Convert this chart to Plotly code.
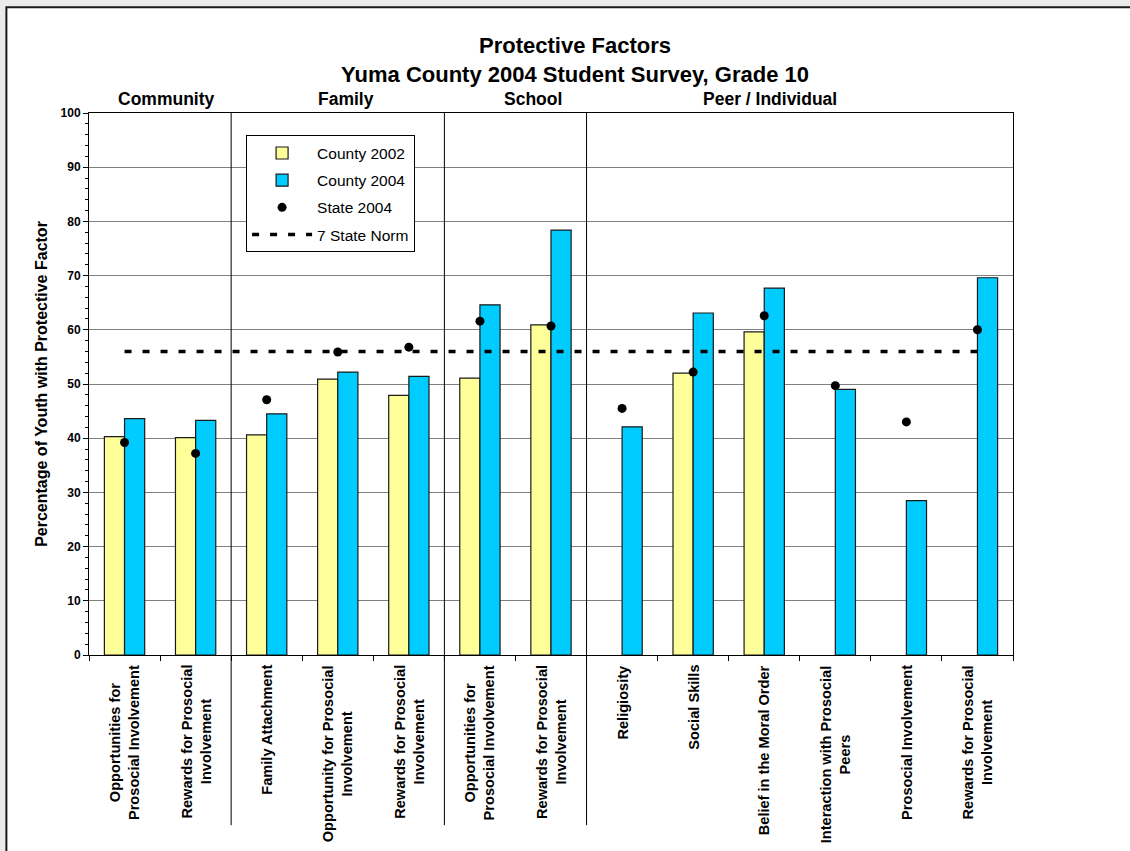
import plotly.graph_objects as go

# ---------------- data ----------------
groups = ["Community", "Family", "School", "Peer / Individual"]
group_sizes = [2, 3, 2, 6]
categories = [
    "Opportunities for<br>Prosocial Involvement",
    "Rewards for Prosocial<br>Involvement",
    "Family Attachment",
    "Opportunity for Prosocial<br>Involvement",
    "Rewards for Prosocial<br>Involvement",
    "Opportunities for<br>Prosocial Involvement",
    "Rewards for Prosocial<br>Involvement",
    "Religiosity",
    "Social Skills",
    "Belief in the Moral Order",
    "Interaction with Prosocial<br>Peers",
    "Prosocial Involvement",
    "Rewards for Prosocial<br>Involvement",
]
county_2002 = [40.3, 40.1, 40.6, 50.9, 47.9, 51.1, 60.9, None, 52.0, 59.6, None, None, None]
county_2004 = [43.6, 43.3, 44.5, 52.2, 51.4, 64.6, 78.4, 42.1, 63.1, 67.7, 49.0, 28.5, 69.6]
state_2004 = [39.2, 37.2, 47.1, 55.9, 56.8, 61.6, 60.7, 45.5, 52.2, 62.6, 49.7, 43.0, 60.0]
state_norm = 56.0
y_ticks = [0, 10, 20, 30, 40, 50, 60, 70, 80, 90, 100]

# layout: header label positions (in category units)
header_x = [0.59, 3.12, 5.75, 9.08]

FONT = "Arial, Liberation Sans, sans-serif"
pos = list(range(len(categories)))

fig = go.Figure()
fig.add_trace(go.Bar(
    x=pos, y=county_2002, name="County 2002", offsetgroup="a",
    marker=dict(color="#FFFF99", line=dict(color="#1a1a1a", width=1.2)),
    legendgroup="g1",
))
fig.add_trace(go.Bar(
    x=pos, y=county_2004, name="County 2004", offsetgroup="b",
    marker=dict(color="#00CCFF", line=dict(color="#1a1a1a", width=1.2)),
    legendgroup="g2",
))
fig.add_trace(go.Scatter(
    x=pos, y=state_2004, name="State 2004", mode="markers",
    marker=dict(color="black", size=9), legendgroup="g3",
))
fig.add_trace(go.Scatter(
    x=pos, y=[state_norm] * len(pos), name="7 State Norm", mode="lines",
    line=dict(color="black", width=3.5, dash="7px,11px"), legendgroup="g4",
))

# group dividers and headers
shapes = []
annotations = []
start = 0
for g, n, hx in zip(groups, group_sizes, header_x):
    end = start + n
    annotations.append(dict(
        x=hx, y=1.025, xref="x", yref="paper",
        text=f"<b>{g}</b>", showarrow=False, yanchor="middle",
        font=dict(family=FONT, size=17.5, color="black"),
    ))
    if end < len(categories):
        shapes.append(dict(
            type="line", xref="x", yref="paper", x0=end - 0.5, x1=end - 0.5,
            y0=1, y1=-0.314, line=dict(color="black", width=1),
        ))
    start = end

# category labels
for i, c in enumerate(categories):
    annotations.append(dict(
        x=i, y=0, xref="x", yref="paper", yshift=-8, yanchor="top",
        text=f"<b>{c}</b>", showarrow=False, textangle=-90, align="center",
        font=dict(family=FONT, size=14.6, color="black"),
    ))

# chart area frame
shapes.insert(0, dict(
    type="rect", xref="paper", yref="paper", x0=-0.0894, x1=1.2, y0=-0.6, y1=1.195,
    fillcolor="white", line=dict(color="#1a1a1a", width=2), layer="below",
))

fig.update_layout(
    width=1130, height=851,
    margin=dict(l=89, r=117, t=113, b=196),
    paper_bgcolor="#EAEAEA", plot_bgcolor="white",
    font=dict(family=FONT, color="black"),
    title=dict(
        text="<b>Protective Factors<br>Yuma County 2004 Student Survey, Grade 10</b>",
        x=0.526, xref="paper", xanchor="center",
        y=1 - 53 / 851, yref="container", yanchor="middle",
        font=dict(family=FONT, size=22, color="black"),
    ),
    barmode="group", bargap=0.433, bargroupgap=0,
    showlegend=True,
    legend=dict(
        x=0.170, y=0.9586, xanchor="left", yanchor="top",
        bgcolor="white", bordercolor="black", borderwidth=1,
        font=dict(family=FONT, size=15.5, color="black"),
        traceorder="grouped", tracegroupgap=4, itemwidth=60,
    ),
    shapes=shapes, annotations=annotations,
)
fig.update_xaxes(
    range=[-0.5, len(categories) - 0.5],
    tickvals=[i - 0.5 for i in range(len(categories) + 1)],
    showticklabels=False, ticks="outside", ticklen=5, tickcolor="black",
    showline=True, linecolor="black", linewidth=1, mirror=True,
    showgrid=False, zeroline=False,
)
fig.update_yaxes(
    range=[0, 100], tickvals=y_ticks, ticks="outside", ticklen=5, tickcolor="black",
    tickfont=dict(family=FONT, size=12, color="black", weight="bold"),
    minor=dict(dtick=2, ticks="outside", ticklen=3, tickcolor="black", showgrid=False),
    showline=True, linecolor="black", linewidth=1, mirror=True,
    showgrid=True, gridcolor="#808080", gridwidth=1, zeroline=False,
    title=dict(text="<b>Percentage of Youth with Protective Factor</b>", standoff=8,
               font=dict(family=FONT, size=16, color="black")),
)

fig.write_html("out.html", config={"displayModeBar": False},
               post_script="document.body.style.margin='0';")
